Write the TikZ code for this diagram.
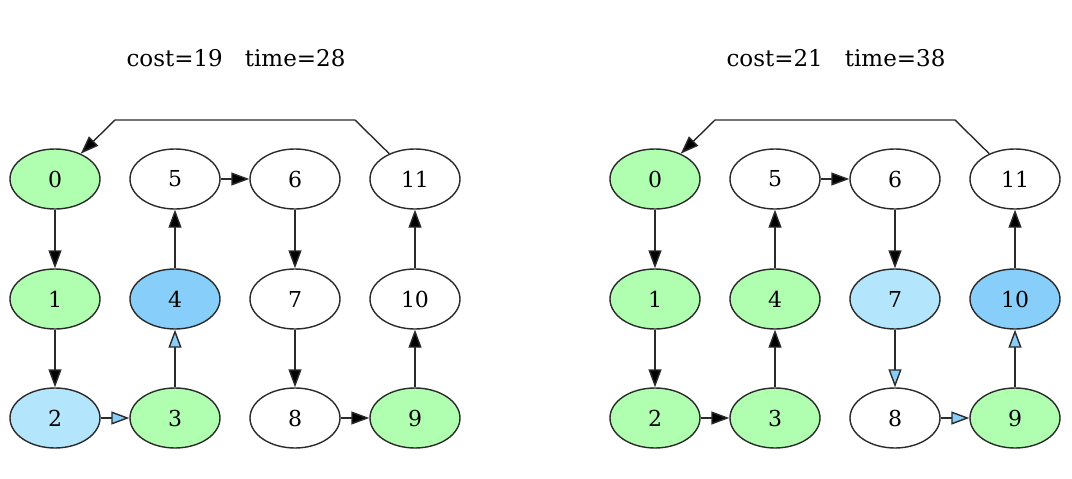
\documentclass[tikz,border=0pt]{standalone}
\usepackage{fontspec}
\setmainfont{DejaVu Serif}
\usetikzlibrary{shapes.geometric,arrows.meta}
\definecolor{ngreen}{HTML}{B0FFB0}
\definecolor{nlblue}{HTML}{B3E5FC}
\definecolor{nblue}{HTML}{87CEFA}
\definecolor{edgec}{HTML}{2A2A2A}
\tikzset{
  gnode/.style={ellipse,draw=edgec,line width=1.4pt,minimum width=90pt,minimum height=60pt,inner sep=0pt,font=\fontsize{22}{25}\selectfont},
  gw/.style={gnode,fill=white},
  gg/.style={gnode,fill=ngreen},
  glb/.style={gnode,fill=nlblue},
  gb/.style={gnode,fill=nblue},
  ebk/.style={draw=edgec,line width=1.4pt,-{Triangle[length=18pt,width=13pt,fill=black]}},
  ebl/.style={draw=edgec,line width=1.4pt,-{Triangle[length=18pt,width=13pt,fill=nblue]}},
  ttl/.style={font=\fontsize{23}{26}\selectfont}
}
\begin{document}
\begin{tikzpicture}[x=1pt,y=-1pt]
\useasboundingbox (0,0) rectangle (1072,479);
% left graph
\node[ttl] (tl) at (236,58) {cost=19\hspace{22pt}time=28};
\node[gg]  (a0)  at (55,179)  {0};
\node[gw]  (a5)  at (175,179) {5};
\node[gw]  (a6)  at (295,179) {6};
\node[gw]  (a11) at (415,179) {11};
\node[gg]  (a1)  at (55,299)  {1};
\node[gb]  (a4)  at (175,299) {4};
\node[gw]  (a7)  at (295,299) {7};
\node[gw]  (a10) at (415,299) {10};
\node[glb] (a2)  at (55,418)  {2};
\node[gg]  (a3)  at (175,418) {3};
\node[gw]  (a8)  at (295,418) {8};
\node[gg]  (a9)  at (415,418) {9};
\draw[ebk] (a0) -- (a1);
\draw[ebk] (a1) -- (a2);
\draw[ebl] (a2) -- (a3);
\draw[ebl] (a3) -- (a4);
\draw[ebk] (a4) -- (a5);
\draw[ebk] (a5) -- (a6);
\draw[ebk] (a6) -- (a7);
\draw[ebk] (a7) -- (a8);
\draw[ebk] (a8) -- (a9);
\draw[ebk] (a9) -- (a10);
\draw[ebk] (a10) -- (a11);
\coordinate (ta) at (355,120);
\coordinate (tb) at (115,120);
\draw[ebk] (a11) -- (ta) -- (tb) -- (a0);
% right graph
\node[ttl] (tr) at (836,58) {cost=21\hspace{22pt}time=38};
\node[gg]  (b0)  at (655,179)  {0};
\node[gw]  (b5)  at (775,179) {5};
\node[gw]  (b6)  at (895,179) {6};
\node[gw]  (b11) at (1015,179) {11};
\node[gg]  (b1)  at (655,299)  {1};
\node[gg]  (b4)  at (775,299) {4};
\node[glb] (b7)  at (895,299) {7};
\node[gb]  (b10) at (1015,299) {10};
\node[gg]  (b2)  at (655,418)  {2};
\node[gg]  (b3)  at (775,418) {3};
\node[gw]  (b8)  at (895,418) {8};
\node[gg]  (b9)  at (1015,418) {9};
\draw[ebk] (b0) -- (b1);
\draw[ebk] (b1) -- (b2);
\draw[ebk] (b2) -- (b3);
\draw[ebk] (b3) -- (b4);
\draw[ebk] (b4) -- (b5);
\draw[ebk] (b5) -- (b6);
\draw[ebk] (b6) -- (b7);
\draw[ebl] (b7) -- (b8);
\draw[ebl] (b8) -- (b9);
\draw[ebl] (b9) -- (b10);
\draw[ebk] (b10) -- (b11);
\coordinate (tc) at (955,120);
\coordinate (td) at (715,120);
\draw[ebk] (b11) -- (tc) -- (td) -- (b0);
\end{tikzpicture}
\end{document}
